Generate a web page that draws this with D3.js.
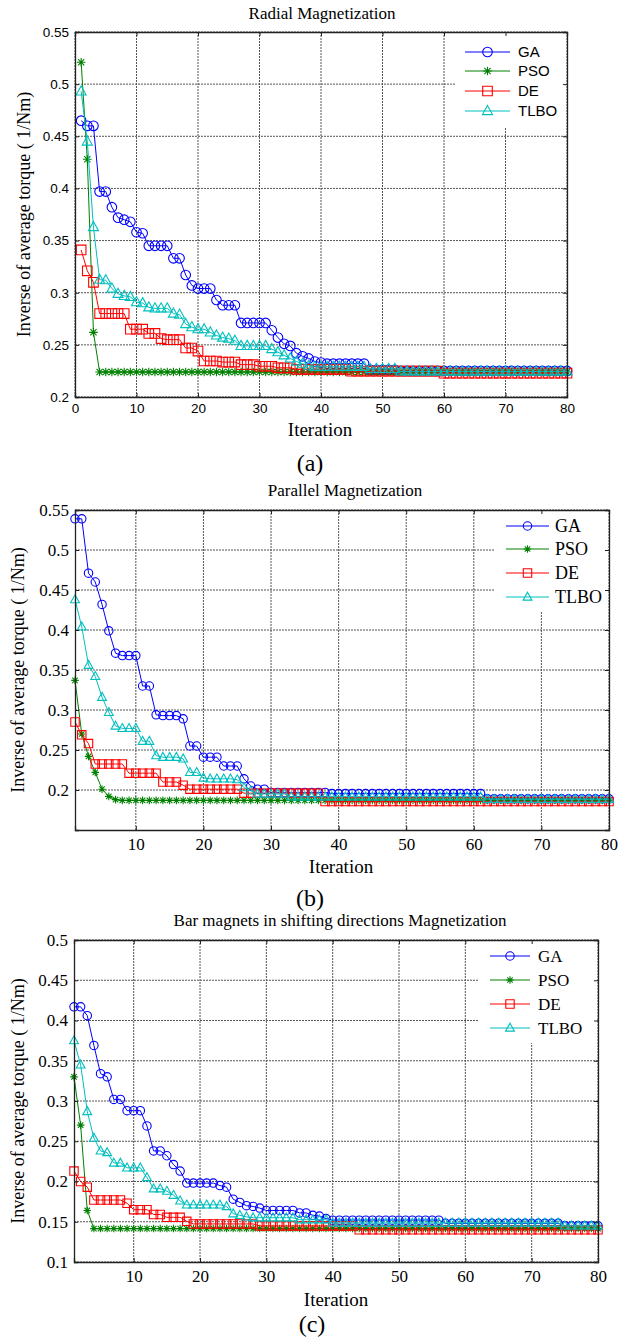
<!DOCTYPE html>
<html>
<head>
<meta charset="utf-8">
<script src="https://cdn.jsdelivr.net/npm/d3@7"></script>
<style>
  body { margin: 0; background: #fff; }
  svg { display: block; }
</style>
</head>
<body>
<div class="canvas"></div>
<script>
// ---- data (iterations 1..80) ----
var series = ['GA', 'PSO', 'DE', 'TLBO']

var aGA = [0.465,0.460,0.460,0.397,0.397,0.382,0.372,0.370,0.368,0.358,
  0.357,0.345,0.345,0.345,0.345,0.333,0.333,0.317,0.307,0.304,
  0.304,0.304,0.293,0.288,0.288,0.288,0.271,0.271,0.271,0.271,
  0.271,0.264,0.257,0.251,0.249,0.242,0.239,0.237,0.234,0.233,
  0.232,0.232,0.232,0.232,0.232,0.232,0.232,0.226,0.226,0.226,
  0.226,0.226,0.225,0.225,0.225,0.225,0.225,0.225,0.225,0.225,
  0.225,0.225,0.225,0.225,0.225,0.225,0.225,0.225,0.225,0.225,
  0.225,0.225,0.225,0.225,0.225,0.225,0.225,0.225,0.225,0.225]
var aPSO = [0.521,0.428,0.262,0.224,0.224,0.224,0.224,0.224,0.224,0.224,
  0.224,0.224,0.224,0.224,0.224,0.224,0.224,0.224,0.224,0.224,
  0.224,0.224,0.224,0.224,0.224,0.224,0.224,0.224,0.224,0.224,
  0.224,0.224,0.224,0.224,0.224,0.224,0.224,0.224,0.224,0.224,
  0.224,0.224,0.224,0.224,0.224,0.224,0.224,0.224,0.224,0.224,
  0.224,0.224,0.224,0.224,0.224,0.224,0.224,0.224,0.224,0.224,
  0.224,0.224,0.224,0.224,0.224,0.224,0.224,0.224,0.224,0.224,
  0.224,0.224,0.224,0.224,0.224,0.224,0.224,0.224,0.224,0.224]
var aDE = [0.341,0.321,0.310,0.280,0.280,0.280,0.280,0.280,0.265,0.265,
  0.265,0.261,0.261,0.256,0.255,0.255,0.255,0.247,0.247,0.244,
  0.2345,0.2345,0.2345,0.2335,0.2335,0.2335,0.231,0.231,0.231,0.2295,
  0.2295,0.2295,0.228,0.228,0.228,0.2265,0.2265,0.2265,0.2265,0.2265,
  0.2265,0.2265,0.2265,0.2265,0.2248,0.2248,0.2248,0.2248,0.2248,0.2248,
  0.2248,0.2248,0.2248,0.2248,0.2248,0.2248,0.2248,0.2248,0.2248,0.2228,
  0.2228,0.2228,0.2228,0.2228,0.2228,0.2228,0.2228,0.2228,0.2228,0.2228,
  0.2228,0.2228,0.2228,0.2228,0.2228,0.2228,0.2228,0.2228,0.2228,0.2228]
var aTLBO = [0.493,0.445,0.363,0.3125,0.312,0.304,0.299,0.297,0.296,0.291,
  0.290,0.286,0.285,0.285,0.285,0.280,0.279,0.270,0.267,0.265,
  0.265,0.262,0.259,0.257,0.256,0.254,0.249,0.249,0.249,0.249,
  0.249,0.246,0.243,0.240,0.237,0.234,0.232,0.230,0.229,0.229,
  0.229,0.229,0.229,0.229,0.229,0.229,0.229,0.227,0.227,0.227,
  0.227,0.227,0.2245,0.2245,0.2245,0.2245,0.2245,0.2245,0.2245,0.2245,
  0.2245,0.2245,0.2245,0.2245,0.2245,0.2245,0.2245,0.2245,0.2245,0.2245,
  0.2245,0.2245,0.2245,0.2245,0.2245,0.2245,0.2245,0.2245,0.2245,0.2245]

var bGA = [0.539,0.539,0.471,0.460,0.432,0.399,0.371,0.368,0.368,0.368,
  0.330,0.330,0.294,0.293,0.293,0.293,0.289,0.255,0.255,0.241,
  0.241,0.241,0.230,0.230,0.230,0.214,0.205,0.201,0.201,0.197,
  0.197,0.197,0.197,0.197,0.197,0.197,0.197,0.197,0.1955,0.1955,
  0.1955,0.1955,0.1955,0.1955,0.1955,0.1955,0.1955,0.1955,0.1955,0.1955,
  0.1955,0.1955,0.1955,0.1955,0.1955,0.1955,0.1955,0.1955,0.1955,0.1955,
  0.1955,0.189,0.189,0.189,0.189,0.189,0.189,0.189,0.189,0.189,
  0.189,0.189,0.189,0.189,0.189,0.189,0.189,0.189,0.189,0.189]
var bPSO = [0.337,0.270,0.242,0.222,0.201,0.192,0.188,0.187,0.187,0.187,
  0.187,0.187,0.187,0.187,0.187,0.187,0.187,0.187,0.187,0.187,
  0.187,0.187,0.187,0.187,0.187,0.187,0.187,0.187,0.187,0.187,
  0.187,0.187,0.187,0.187,0.187,0.187,0.187,0.187,0.187,0.187,
  0.187,0.187,0.187,0.187,0.187,0.187,0.187,0.187,0.187,0.187,
  0.187,0.187,0.187,0.187,0.187,0.187,0.187,0.187,0.187,0.187,
  0.187,0.187,0.187,0.187,0.187,0.187,0.187,0.187,0.187,0.187,
  0.187,0.187,0.187,0.187,0.187,0.187,0.187,0.187,0.187,0.187]
var bDE = [0.285,0.269,0.258,0.2325,0.2325,0.2325,0.2325,0.2325,0.221,0.221,
  0.221,0.221,0.221,0.210,0.210,0.210,0.206,0.201,0.201,0.201,
  0.201,0.201,0.201,0.201,0.201,0.196,0.196,0.196,0.196,0.196,
  0.196,0.196,0.196,0.196,0.196,0.196,0.196,0.1855,0.1855,0.1855,
  0.1855,0.1855,0.1855,0.1855,0.1855,0.1855,0.1855,0.1855,0.1855,0.1855,
  0.1855,0.1855,0.1855,0.1855,0.1855,0.1855,0.1855,0.1855,0.1855,0.1855,
  0.1855,0.1855,0.1855,0.1855,0.1855,0.1855,0.1855,0.1855,0.1855,0.1855,
  0.1855,0.1855,0.1855,0.1855,0.1855,0.1855,0.1855,0.1855,0.1855,0.1855]
var bTLBO = [0.438,0.404,0.356,0.342,0.316,0.297,0.280,0.277,0.277,0.277,
  0.261,0.261,0.243,0.241,0.241,0.241,0.239,0.222,0.222,0.215,
  0.214,0.214,0.214,0.214,0.213,0.203,0.199,0.195,0.195,0.195,
  0.195,0.195,0.1915,0.1915,0.1915,0.1915,0.1915,0.1915,0.1915,0.1915,
  0.1915,0.1915,0.1915,0.1915,0.1915,0.1915,0.1915,0.1915,0.1915,0.1915,
  0.1915,0.1915,0.1915,0.1915,0.1915,0.1915,0.1915,0.1915,0.1915,0.1915,
  0.1915,0.1885,0.1885,0.1885,0.1885,0.1885,0.1885,0.1885,0.1885,0.1885,
  0.1885,0.1885,0.1885,0.1885,0.1885,0.1885,0.1885,0.1885,0.1885,0.1885]

var cGA = [0.417,0.417,0.406,0.369,0.334,0.330,0.302,0.302,0.288,0.288,
  0.288,0.269,0.238,0.238,0.232,0.221,0.213,0.198,0.198,0.198,
  0.198,0.198,0.195,0.193,0.178,0.174,0.170,0.169,0.167,0.164,
  0.164,0.164,0.164,0.164,0.161,0.161,0.158,0.157,0.154,0.152,
  0.152,0.152,0.152,0.152,0.152,0.152,0.152,0.152,0.152,0.152,
  0.152,0.152,0.152,0.152,0.152,0.152,0.148,0.148,0.148,0.148,
  0.148,0.148,0.148,0.148,0.148,0.148,0.148,0.148,0.148,0.148,
  0.148,0.148,0.148,0.148,0.145,0.145,0.145,0.145,0.145,0.145]
var cPSO = [0.330,0.270,0.164,0.1415,0.1415,0.1415,0.1415,0.1415,0.1415,0.1415,
  0.1415,0.1415,0.1415,0.1415,0.1415,0.1415,0.1415,0.1415,0.1415,0.1415,
  0.1415,0.1415,0.1415,0.1415,0.1415,0.1415,0.1415,0.1415,0.1415,0.1415,
  0.1415,0.1415,0.1415,0.1415,0.1415,0.1415,0.1415,0.1415,0.1415,0.1415,
  0.1415,0.1415,0.1415,0.1415,0.1415,0.1415,0.1415,0.1415,0.1415,0.1415,
  0.1415,0.1415,0.1415,0.1415,0.1415,0.1415,0.1415,0.1415,0.1415,0.1415,
  0.1415,0.1415,0.1415,0.1415,0.1415,0.1415,0.1415,0.1415,0.1415,0.1415,
  0.1415,0.1415,0.1415,0.1415,0.1415,0.1415,0.1415,0.1415,0.1415,0.1415]
var cDE = [0.213,0.200,0.193,0.177,0.177,0.177,0.177,0.177,0.173,0.165,
  0.165,0.165,0.159,0.159,0.1555,0.1555,0.1555,0.1505,0.1473,0.1473,
  0.1473,0.1473,0.1473,0.1473,0.1473,0.1473,0.1473,0.1473,0.1448,0.1448,
  0.1448,0.1448,0.1448,0.1448,0.1448,0.1448,0.1448,0.1448,0.1448,0.1448,
  0.1448,0.1448,0.1448,0.140,0.140,0.140,0.140,0.140,0.140,0.140,
  0.140,0.140,0.140,0.140,0.140,0.140,0.140,0.140,0.140,0.140,
  0.140,0.140,0.140,0.140,0.140,0.140,0.140,0.140,0.140,0.140,
  0.140,0.140,0.140,0.140,0.140,0.140,0.140,0.140,0.140,0.140]
var cTLBO = [0.375,0.345,0.287,0.254,0.238,0.236,0.223,0.223,0.217,0.217,
  0.217,0.205,0.191,0.191,0.188,0.183,0.176,0.171,0.171,0.171,
  0.171,0.171,0.171,0.169,0.160,0.158,0.156,0.155,0.155,0.155,
  0.155,0.155,0.155,0.155,0.1525,0.1525,0.1525,0.1525,0.1525,0.1485,
  0.1485,0.1485,0.1485,0.1485,0.1485,0.1485,0.1485,0.1485,0.1485,0.1485,
  0.1485,0.1485,0.1485,0.1485,0.1485,0.1485,0.1485,0.1485,0.1485,0.1485,
  0.1485,0.1485,0.1485,0.1485,0.1485,0.1485,0.1485,0.1485,0.1485,0.1485,
  0.1485,0.1485,0.1485,0.1485,0.145,0.145,0.145,0.145,0.145,0.145]

var aXTicks = [0, 10, 20, 30, 40, 50, 60, 70, 80]
var bXTicks = [10, 20, 30, 40, 50, 60, 70, 80]
var aYTicks = [0.2, 0.25, 0.3, 0.35, 0.4, 0.45, 0.5, 0.55]
var cYTicks = [0.1, 0.15, 0.2, 0.25, 0.3, 0.35, 0.4, 0.45, 0.5]

// ---- styling ----
var colors = {GA: '#0000ff', PSO: '#008000', DE: '#ff0000', TLBO: '#00bfbf'}
var SANS = 'Liberation Sans, Arial, sans-serif'
var SERIF = 'Liberation Serif, Times New Roman, serif'

var svg = d3.select('.canvas').append('svg').attr('width', 633).attr('height', 1342)

function markerPath(name, s) {
  if (name == 'DE') return 'M' + (-s) + ',' + (-s) + 'h' + (2 * s) + 'v' + (2 * s) + 'h' + (-2 * s) + 'Z'
  if (name == 'TLBO') return 'M0,' + (-1.15 * s) + 'L' + (1.05 * s) + ',' + (0.75 * s) + 'L' + (-1.05 * s) + ',' + (0.75 * s) + 'Z'
  // asterisk for PSO
  var d = s * 0.72
  return 'M' + (-s) + ',0H' + s + 'M0,' + (-s) + 'V' + s +
    'M' + (-d) + ',' + (-d) + 'L' + d + ',' + d + 'M' + (-d) + ',' + d + 'L' + d + ',' + (-d)
}

function drawMarker(g, name, cx, cy, size) {
  if (name == 'GA') {
    g.append('circle').attr('cx', cx).attr('cy', cy).attr('r', size)
      .attr('fill', 'none').attr('stroke', colors[name]).attr('stroke-width', 1.1)
  } else {
    g.append('path').attr('d', markerPath(name, name == 'PSO' ? size * 0.9 : size))
      .attr('transform', 'translate(' + cx + ',' + cy + ')')
      .attr('fill', 'none').attr('stroke', colors[name]).attr('stroke-width', 1.1)
  }
}

function panel(cfg) {
  var x = d3.scaleLinear().domain(cfg.xDomain).range([cfg.left, cfg.right])
  var y = d3.scaleLinear().domain(cfg.yDomain).range([cfg.bottom, cfg.top])
  var g = svg.append('g')

  // grid (dotted)
  cfg.xTicks.forEach(function (t) {
    g.append('line').attr('x1', x(t)).attr('x2', x(t)).attr('y1', cfg.top).attr('y2', cfg.bottom)
      .attr('stroke', '#555').attr('stroke-width', 1).attr('stroke-dasharray', '2,1')
  })
  cfg.yTicks.forEach(function (t) {
    g.append('line').attr('y1', y(t)).attr('y2', y(t)).attr('x1', cfg.left).attr('x2', cfg.right)
      .attr('stroke', '#555').attr('stroke-width', 1).attr('stroke-dasharray', '2,1')
  })

  // legend background hides the grid
  g.append('rect').attr('x', cfg.legend.x).attr('y', cfg.legend.y)
    .attr('width', cfg.legend.w).attr('height', cfg.legend.h).attr('fill', '#fff')

  // series
  var line = d3.line().x(function (d, i) { return x(i + 1) }).y(function (d) { return y(d) })
  series.forEach(function (name) {
    var vals = cfg.data[name]
    g.append('path').datum(vals).attr('d', line)
      .attr('fill', 'none').attr('stroke', colors[name]).attr('stroke-width', 1)
    var mg = g.append('g')
    vals.forEach(function (v, i) { drawMarker(mg, name, x(i + 1), y(v), cfg.ms) })
  })

  // axes box + inward ticks
  var tickFmt = function (d) { return String(+d.toFixed(2)) }
  var axB = g.append('g').attr('transform', 'translate(0,' + cfg.bottom + ')')
    .call(d3.axisBottom(x).tickValues(cfg.xTicks).tickSize(-4).tickPadding(cfg.xPad).tickFormat(tickFmt))
  var axT = g.append('g').attr('transform', 'translate(0,' + cfg.top + ')')
    .call(d3.axisTop(x).tickValues(cfg.xTicks).tickSize(-4).tickFormat(''))
  var axL = g.append('g').attr('transform', 'translate(' + cfg.left + ',0)')
    .call(d3.axisLeft(y).tickValues(cfg.yTicks).tickSize(-4).tickPadding(cfg.yPad).tickFormat(tickFmt))
  var axR = g.append('g').attr('transform', 'translate(' + cfg.right + ',0)')
    .call(d3.axisRight(y).tickValues(cfg.yTicks).tickSize(-4).tickFormat(''))
  ;[axB, axT, axL, axR].forEach(function (a) {
    a.selectAll('.domain').attr('stroke', '#222').attr('stroke-width', 1.3)
    a.selectAll('.tick line').attr('stroke', '#222')
    a.selectAll('text').attr('font-family', cfg.tickFont).attr('font-size', cfg.tickSize).attr('fill', '#000')
  })

  // legend entries
  series.forEach(function (name, k) {
    var ly = cfg.legend.rows[k]
    g.append('line').attr('x1', cfg.legend.l1).attr('x2', cfg.legend.l2).attr('y1', ly).attr('y2', ly)
      .attr('stroke', colors[name]).attr('stroke-width', 1)
    drawMarker(g, name, (cfg.legend.l1 + cfg.legend.l2) / 2, ly, cfg.ms)
    g.append('text').attr('x', cfg.legend.tx).attr('y', ly).attr('dy', '0.35em')
      .attr('font-family', cfg.legend.font).attr('font-size', cfg.legend.size).text(name)
  })

  // titles and labels
  g.append('text').attr('x', cfg.titleX).attr('y', cfg.titleY).attr('text-anchor', 'middle')
    .attr('font-family', SERIF).attr('font-size', 17).text(cfg.title)
  g.append('text').attr('x', cfg.xlabX).attr('y', cfg.xlabY).attr('text-anchor', 'middle')
    .attr('font-family', SERIF).attr('font-size', 19).text('Iteration')
  g.append('text').attr('text-anchor', 'middle').attr('dy', '0.35em')
    .attr('transform', 'translate(' + cfg.ylabX + ',' + ((cfg.top + cfg.bottom) / 2) + ') rotate(-90)')
    .attr('font-family', SERIF).attr('font-size', 18).text('Inverse of average torque ( 1/Nm)')
  g.append('text').attr('x', cfg.capX).attr('y', cfg.capY).attr('text-anchor', 'middle')
    .attr('font-family', SERIF).attr('font-size', 24).text(cfg.caption)
}

panel({
  data: {GA: aGA, PSO: aPSO, DE: aDE, TLBO: aTLBO},
  xDomain: [0, 80], yDomain: [0.2, 0.55], xTicks: aXTicks, yTicks: aYTicks,
  left: 75, right: 567, top: 32, bottom: 397, ms: 4.8,
  tickFont: SANS, tickSize: 13.5, xPad: 6, yPad: 6,
  legend: {x: 455, y: 33, w: 111, h: 94, rows: [52, 71, 91, 111], l1: 465, l2: 510, tx: 518, font: SANS, size: 15},
  title: 'Radial Magnetization', titleX: 322, titleY: 19,
  xlabX: 320, xlabY: 436, ylabX: 24, caption: '(a)', capX: 310, capY: 471
})

panel({
  data: {GA: bGA, PSO: bPSO, DE: bDE, TLBO: bTLBO},
  xDomain: [1, 80], yDomain: [0.15, 0.55], xTicks: bXTicks, yTicks: aYTicks,
  left: 75, right: 609, top: 510, bottom: 830, ms: 4.2,
  tickFont: SERIF, tickSize: 17, xPad: 8, yPad: 6,
  legend: {x: 494, y: 511, w: 114, h: 101, rows: [526, 549, 573, 597], l1: 506, l2: 549, tx: 555, font: SERIF, size: 18},
  title: 'Parallel Magnetization', titleX: 345, titleY: 496,
  xlabX: 341, xlabY: 873, ylabX: 18, caption: '(b)', capX: 310, capY: 906
})

panel({
  data: {GA: cGA, PSO: cPSO, DE: cDE, TLBO: cTLBO},
  xDomain: [1, 80], yDomain: [0.1, 0.5], xTicks: bXTicks, yTicks: cYTicks,
  left: 74, right: 598, top: 940, bottom: 1262, ms: 4.2,
  tickFont: SERIF, tickSize: 17, xPad: 8, yPad: 6,
  legend: {x: 479, y: 941, w: 118, h: 102, rows: [956, 980, 1004, 1028], l1: 490, l2: 530, tx: 538, font: SERIF, size: 17},
  title: 'Bar magnets in shifting directions Magnetization', titleX: 340, titleY: 926,
  xlabX: 336, xlabY: 1306, ylabX: 18, caption: '(c)', capX: 312, capY: 1332
})
</script>
</body>
</html>
